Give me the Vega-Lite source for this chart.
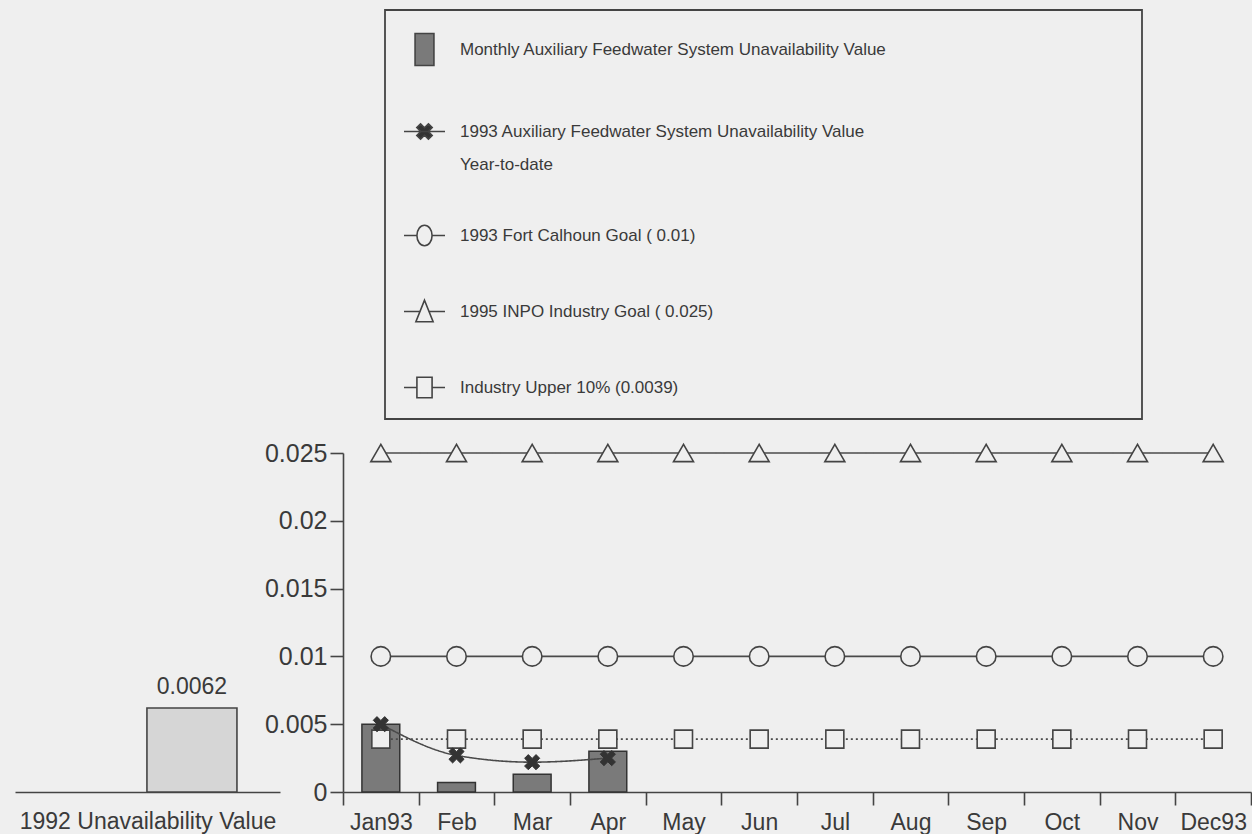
{
  "$schema": "https://vega.github.io/schema/vega-lite/v6.json",
  "background": "#efefef",
  "padding": {"left": 15, "top": 9, "right": 0, "bottom": 0},
  "spacing": 63,
  "bounds": "flush",
  "config": {
    "view": {"stroke": null},
    "font": "Liberation Sans",
    "axis": {
      "labelFont": "Liberation Sans",
      "titleFont": "Liberation Sans",
      "domainColor": "#444444",
      "tickColor": "#444444",
      "labelColor": "#3a3a3a",
      "titleColor": "#3a3a3a",
      "domainWidth": 1.6,
      "tickWidth": 1.6,
      "grid": false
    },
    "legend": {
      "orient": "none",
      "legendX": 370,
      "legendY": -443,
      "direction": "vertical",
      "titleOrient": "right",
      "titlePadding": 237,
      "titleFontSize": 2,
      "symbolSize": 1681,
      "symbolStrokeColor": "#444444",
      "symbolStrokeWidth": 1.6,
      "symbolOpacity": 1,
      "labelFont": "Liberation Sans",
      "labelFontSize": 17,
      "labelColor": "#3a3a3a",
      "labelLimit": 700,
      "labelOffset": 14,
      "rowPadding": 41,
      "padding": 18,
      "strokeColor": "#444444",
      "fillColor": "#efefef"
    }
  },
  "datasets": {
    "prior": [{"category": "1992 Unavailability Value", "value": 0.0062}],
    "monthly": [
      {"month": "Jan93", "value": 0.005},
      {"month": "Feb", "value": 0.0007},
      {"month": "Mar", "value": 0.0013},
      {"month": "Apr", "value": 0.003}
    ],
    "lines": [
      {"month": "Jan93", "series": "1993 Auxiliary Feedwater System Unavailability Value Year-to-date", "value": 0.005},
      {"month": "Feb", "series": "1993 Auxiliary Feedwater System Unavailability Value Year-to-date", "value": 0.0027},
      {"month": "Mar", "series": "1993 Auxiliary Feedwater System Unavailability Value Year-to-date", "value": 0.0022},
      {"month": "Apr", "series": "1993 Auxiliary Feedwater System Unavailability Value Year-to-date", "value": 0.0025},
      {"month": "Jan93", "series": "1993 Fort Calhoun Goal ( 0.01)", "value": 0.01},
      {"month": "Feb", "series": "1993 Fort Calhoun Goal ( 0.01)", "value": 0.01},
      {"month": "Mar", "series": "1993 Fort Calhoun Goal ( 0.01)", "value": 0.01},
      {"month": "Apr", "series": "1993 Fort Calhoun Goal ( 0.01)", "value": 0.01},
      {"month": "May", "series": "1993 Fort Calhoun Goal ( 0.01)", "value": 0.01},
      {"month": "Jun", "series": "1993 Fort Calhoun Goal ( 0.01)", "value": 0.01},
      {"month": "Jul", "series": "1993 Fort Calhoun Goal ( 0.01)", "value": 0.01},
      {"month": "Aug", "series": "1993 Fort Calhoun Goal ( 0.01)", "value": 0.01},
      {"month": "Sep", "series": "1993 Fort Calhoun Goal ( 0.01)", "value": 0.01},
      {"month": "Oct", "series": "1993 Fort Calhoun Goal ( 0.01)", "value": 0.01},
      {"month": "Nov", "series": "1993 Fort Calhoun Goal ( 0.01)", "value": 0.01},
      {"month": "Dec93", "series": "1993 Fort Calhoun Goal ( 0.01)", "value": 0.01},
      {"month": "Jan93", "series": "1995 INPO Industry Goal ( 0.025)", "value": 0.025},
      {"month": "Feb", "series": "1995 INPO Industry Goal ( 0.025)", "value": 0.025},
      {"month": "Mar", "series": "1995 INPO Industry Goal ( 0.025)", "value": 0.025},
      {"month": "Apr", "series": "1995 INPO Industry Goal ( 0.025)", "value": 0.025},
      {"month": "May", "series": "1995 INPO Industry Goal ( 0.025)", "value": 0.025},
      {"month": "Jun", "series": "1995 INPO Industry Goal ( 0.025)", "value": 0.025},
      {"month": "Jul", "series": "1995 INPO Industry Goal ( 0.025)", "value": 0.025},
      {"month": "Aug", "series": "1995 INPO Industry Goal ( 0.025)", "value": 0.025},
      {"month": "Sep", "series": "1995 INPO Industry Goal ( 0.025)", "value": 0.025},
      {"month": "Oct", "series": "1995 INPO Industry Goal ( 0.025)", "value": 0.025},
      {"month": "Nov", "series": "1995 INPO Industry Goal ( 0.025)", "value": 0.025},
      {"month": "Dec93", "series": "1995 INPO Industry Goal ( 0.025)", "value": 0.025},
      {"month": "Jan93", "series": "Industry Upper 10% (0.0039)", "value": 0.0039},
      {"month": "Feb", "series": "Industry Upper 10% (0.0039)", "value": 0.0039},
      {"month": "Mar", "series": "Industry Upper 10% (0.0039)", "value": 0.0039},
      {"month": "Apr", "series": "Industry Upper 10% (0.0039)", "value": 0.0039},
      {"month": "May", "series": "Industry Upper 10% (0.0039)", "value": 0.0039},
      {"month": "Jun", "series": "Industry Upper 10% (0.0039)", "value": 0.0039},
      {"month": "Jul", "series": "Industry Upper 10% (0.0039)", "value": 0.0039},
      {"month": "Aug", "series": "Industry Upper 10% (0.0039)", "value": 0.0039},
      {"month": "Sep", "series": "Industry Upper 10% (0.0039)", "value": 0.0039},
      {"month": "Oct", "series": "Industry Upper 10% (0.0039)", "value": 0.0039},
      {"month": "Nov", "series": "Industry Upper 10% (0.0039)", "value": 0.0039},
      {"month": "Dec93", "series": "Industry Upper 10% (0.0039)", "value": 0.0039}
    ]
  },
  "hconcat": [
    {
      "width": 265,
      "height": 339,
      "data": {"name": "prior"},
      "encoding": {
        "x": {
          "field": "category",
          "type": "nominal",
          "scale": {"paddingInner": 0, "paddingOuter": 0.972, "align": 0.754},
          "axis": {
            "labels": false,
            "ticks": false,
            "title": "1992 Unavailability Value",
            "titleFontSize": 23,
            "titleFontWeight": "normal",
            "titlePadding": 18
          }
        },
        "y": {
          "field": "value",
          "type": "quantitative",
          "scale": {"domain": [0, 0.025], "nice": false},
          "axis": null
        }
      },
      "layer": [
        {"mark": {"type": "bar", "fill": "#d6d6d6", "stroke": "#444444", "strokeWidth": 1.6}},
        {
          "mark": {"type": "text", "dy": -21, "fontSize": 23, "color": "#3a3a3a"},
          "encoding": {"text": {"field": "value", "type": "quantitative", "format": ".4f"}}
        }
      ]
    },
    {
      "width": 908,
      "height": 339,
      "encoding": {
        "x": {
          "field": "month",
          "type": "ordinal",
          "sort": ["Jan93", "Feb", "Mar", "Apr", "May", "Jun", "Jul", "Aug", "Sep", "Oct", "Nov", "Dec93"],
          "scale": {
            "domain": ["Jan93", "Feb", "Mar", "Apr", "May", "Jun", "Jul", "Aug", "Sep", "Oct", "Nov", "Dec93"],
            "paddingInner": 0,
            "paddingOuter": 0
          },
          "axis": {
            "title": null,
            "labelAngle": 0,
            "tickBand": "extent",
            "tickSize": 13,
            "labelFontSize": 23,
            "labelPadding": 6
          }
        },
        "y": {
          "field": "value",
          "type": "quantitative",
          "scale": {"domain": [0, 0.025], "nice": false},
          "axis": {
            "title": null,
            "values": [0, 0.005, 0.01, 0.015, 0.02, 0.025],
            "format": "~g",
            "tickSize": 13,
            "labelFontSize": 25,
            "labelPadding": 3
          }
        }
      },
      "layer": [
        {
          "data": {"name": "monthly"},
          "mark": {"type": "bar", "width": {"band": 0.5}, "fill": "#7a7a7a", "stroke": "#333333", "strokeWidth": 1.5}
        },
        {
          "data": {"name": "lines"},
          "mark": {"type": "line", "interpolate": "monotone", "color": "#4a4a4a", "strokeWidth": 1.6},
          "encoding": {
            "detail": {"field": "series", "type": "nominal"},
            "strokeDash": {
              "field": "series",
              "type": "nominal",
              "legend": null,
              "scale": {
                "domain": ["1993 Auxiliary Feedwater System Unavailability Value Year-to-date", "1993 Fort Calhoun Goal ( 0.01)", "1995 INPO Industry Goal ( 0.025)", "Industry Upper 10% (0.0039)"],
                "range": [[1, 0], [1, 0], [1, 0], [2, 3]]
              }
            }
          }
        },
        {
          "data": {"name": "lines"},
          "transform": [{"filter": "datum.series == '1993 Fort Calhoun Goal ( 0.01)'"}],
          "mark": {"type": "point", "shape": "circle", "size": 380, "filled": true, "fill": "#efefef", "stroke": "#444444", "strokeWidth": 1.6, "opacity": 1}
        },
        {
          "data": {"name": "lines"},
          "transform": [{"filter": "datum.series == '1995 INPO Industry Goal ( 0.025)'"}],
          "mark": {"type": "point", "shape": "triangle-up", "size": 400, "filled": true, "fill": "#efefef", "stroke": "#444444", "strokeWidth": 1.6, "opacity": 1}
        },
        {
          "data": {"name": "lines"},
          "transform": [{"filter": "datum.series == 'Industry Upper 10% (0.0039)'"}],
          "mark": {"type": "point", "shape": "square", "size": 324, "filled": true, "fill": "#efefef", "stroke": "#444444", "strokeWidth": 1.6, "opacity": 1}
        },
        {
          "data": {"name": "lines"},
          "transform": [{"filter": "datum.series == '1993 Auxiliary Feedwater System Unavailability Value Year-to-date'"}],
          "mark": {"type": "point", "shape": "M0.48,-0.94L0.94,-0.48L0.46,0L0.94,0.48L0.48,0.94L0,0.46L-0.48,0.94L-0.94,0.48L-0.46,0L-0.94,-0.48L-0.48,-0.94L0,-0.46Z", "size": 260, "filled": true, "fill": "#333333", "stroke": "#333333", "strokeWidth": 1, "opacity": 1}
        },
        {
          "data": {"name": "lines"},
          "mark": {"type": "point", "filled": false, "opacity": 0, "stroke": "#444444", "strokeWidth": 1.6},
          "encoding": {
            "shape": {
              "field": "series",
              "type": "nominal",
              "scale": {
                "domain": ["Monthly Auxiliary Feedwater System Unavailability Value", "1993 Auxiliary Feedwater System Unavailability Value Year-to-date", "1993 Fort Calhoun Goal ( 0.01)", "1995 INPO Industry Goal ( 0.025)", "Industry Upper 10% (0.0039)"],
                "range": [
                  "M-0.46,-0.78H0.46V0.78H-0.46Z",
                  "M-1,0H1M0.191,-0.375L0.375,-0.191L0.184,0L0.375,0.191L0.191,0.375L0,0.184L-0.191,0.375L-0.375,0.191L-0.184,0L-0.375,-0.191L-0.191,-0.375L0,-0.184Z",
                  "M-1,0H-0.37M0.37,0H1M-0.37,0A0.37,0.5 0 1,1 0.37,0A0.37,0.5 0 1,1 -0.37,0Z",
                  "M-1,0H-0.22M0.22,0H1M0,-0.55L0.42,0.5L-0.42,0.5Z",
                  "M-1,0H-0.37M0.37,0H1M-0.37,-0.5H0.37V0.5H-0.37Z"
                ]
              },
              "legend": {
                "title": " ",
                "labelExpr": "split(replace(datum.label, ' Year-to-date', '|Year-to-date'), '|')",
                "encode": {
                  "labels": {"update": {"lineHeight": {"value": 33}}},
                  "symbols": {"update": {"stroke": {"value": "#444444"}, "strokeWidth": {"value": 1.6}}},
                  "legend": {"update": {"strokeWidth": {"value": 1.8}}}
                }
              }
            },
            "fill": {
              "field": "series",
              "type": "nominal",
              "scale": {
                "domain": ["Monthly Auxiliary Feedwater System Unavailability Value", "1993 Auxiliary Feedwater System Unavailability Value Year-to-date", "1993 Fort Calhoun Goal ( 0.01)", "1995 INPO Industry Goal ( 0.025)", "Industry Upper 10% (0.0039)"],
                "range": ["#7a7a7a", "#333333", "#efefef", "#efefef", "#efefef"]
              },
              "legend": {
                "title": " ",
                "labelExpr": "split(replace(datum.label, ' Year-to-date', '|Year-to-date'), '|')",
                "encode": {
                  "labels": {"update": {"lineHeight": {"value": 33}}},
                  "symbols": {"update": {"stroke": {"value": "#444444"}, "strokeWidth": {"value": 1.6}}},
                  "legend": {"update": {"strokeWidth": {"value": 1.8}}}
                }
              }
            }
          }
        }
      ]
    }
  ]
}
